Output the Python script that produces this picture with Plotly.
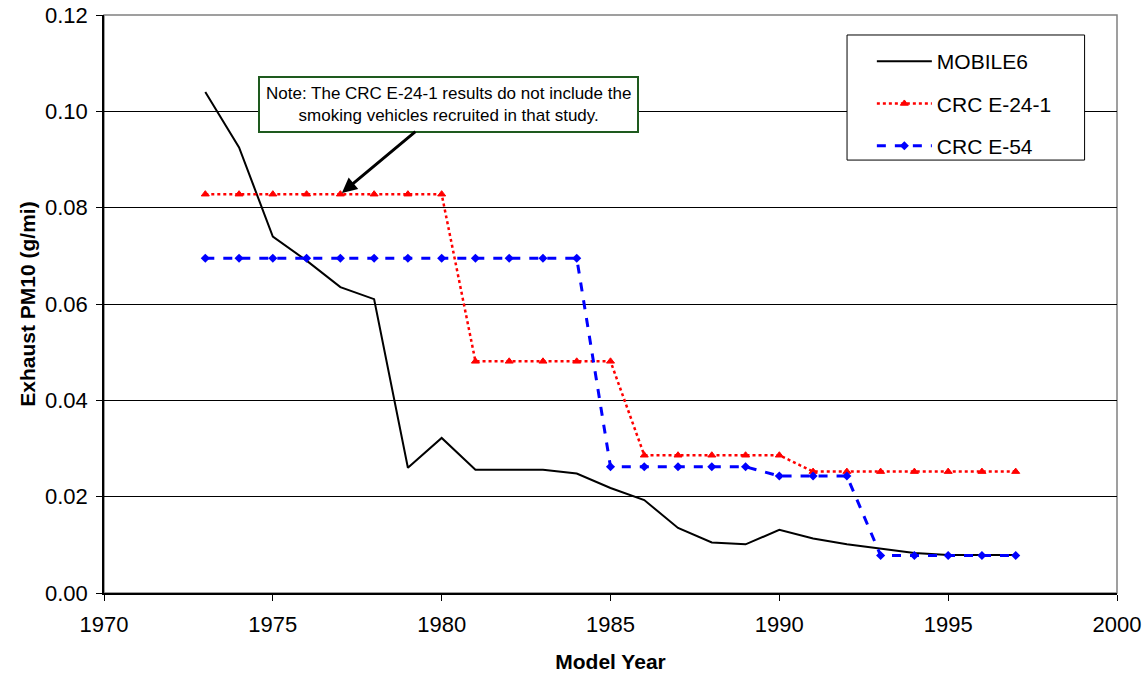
import plotly.graph_objects as go

# Model years
years = list(range(1973, 1998))

# Exhaust PM10 (g/mi)
mobile6 = [0.104, 0.0925, 0.074, 0.069, 0.0635, 0.061, 0.026, 0.0322, 0.0256, 0.0256,
           0.0256, 0.0248, 0.0218, 0.0193, 0.0135, 0.0105, 0.0101, 0.0131, 0.0113, 0.0101,
           0.0092, 0.0083, 0.0079, 0.0079, 0.0079]
crc_e24 = [0.0828] * 8 + [0.0481] * 5 + [0.0286] * 5 + [0.0252] * 7
crc_e54 = [0.0695] * 12 + [0.0262] * 5 + [0.0243] * 3 + [0.0078] * 5

FONT = "Liberation Sans, Arial, sans-serif"

fig = go.Figure()

fig.add_trace(go.Scatter(x=years, y=mobile6, name="MOBILE6", mode="lines",
                         line=dict(color="black", width=2),
                         legendgroup="a"))
fig.add_trace(go.Scatter(x=years, y=crc_e24, name="CRC E-24-1", mode="lines+markers",
                         line=dict(color="#ff0000", width=2.5, dash="dot"),
                         marker=dict(symbol="triangle-up", size=7, color="#ff0000",
                                     line=dict(color="#ff0000", width=1)),
                         legendgroup="b"))
fig.add_trace(go.Scatter(x=years, y=crc_e54, name="CRC E-54", mode="lines+markers",
                         line=dict(color="#0000ff", width=3, dash="dash"),
                         marker=dict(symbol="diamond", size=7, color="#0000ff"),
                         legendgroup="c"))

# Note with arrow pointing at the 1977 CRC E-24-1 point
fig.add_annotation(x=1977, y=crc_e24[4], xref="x", yref="y",
                   text="Note: The CRC E-24-1 results do not include the<br>smoking vehicles recruited in that study.",
                   showarrow=True, arrowhead=2, arrowsize=1, arrowwidth=3, arrowcolor="black",
                   ax=108, ay=-90, standoff=2,
                   bgcolor="white", bordercolor="#1e5a1e", borderwidth=2, borderpad=6,
                   font=dict(family=FONT, size=17, color="black"), align="center")

# plot area border (gray)
fig.add_shape(type="rect", xref="paper", yref="paper", x0=0, y0=0, x1=1, y1=1,
              line=dict(color="#808080", width=1.5), layer="below")
# legend frame
fig.add_shape(type="rect", xref="paper", yref="paper", x0=0.7335, y0=0.749, x1=0.968, y1=0.9654,
              line=dict(color="black", width=1), fillcolor="white", layer="above")

fig.update_layout(
    width=1143, height=674,
    margin=dict(l=104, r=26, t=15, b=81),
    paper_bgcolor="white", plot_bgcolor="white",
    font=dict(family=FONT, size=22, color="black"),
    showlegend=True,
    legend=dict(x=0.758, y=0.955, xanchor="left", yanchor="top",
                bgcolor="rgba(0,0,0,0)", borderwidth=0,
                font=dict(family=FONT, size=21), itemwidth=55,
                tracegroupgap=12),
    xaxis=dict(range=[1970, 2000], tickmode="linear", tick0=1970, dtick=5,
               showgrid=False, zeroline=False, showline=True, linecolor="black", linewidth=1.5,
               ticks="outside", ticklen=6, tickcolor="black", automargin=False,
               tickfont=dict(size=22), ticklabelstandoff=5, ticklabeloverflow="allow",
               title=dict(text="<b>Model Year</b>", font=dict(size=21), standoff=18)),
    yaxis=dict(range=[0, 0.12], tickmode="linear", tick0=0, dtick=0.02, tickformat=".2f",
               showgrid=True, gridcolor="black", gridwidth=1,
               zeroline=False, showline=True, linecolor="black", linewidth=1.5,
               ticks="outside", ticklen=6, tickcolor="black", automargin=False,
               tickfont=dict(size=22), ticklabelstandoff=4, ticklabeloverflow="allow",
               title=dict(text="<b>Exhaust PM10 (g/mi)</b>", font=dict(size=21), standoff=4)),
)

# drop the default page margin so the figure fills the window
fig.write_html("out.html", config={"displayModeBar": False},
               post_script="document.body.style.margin='0';")
